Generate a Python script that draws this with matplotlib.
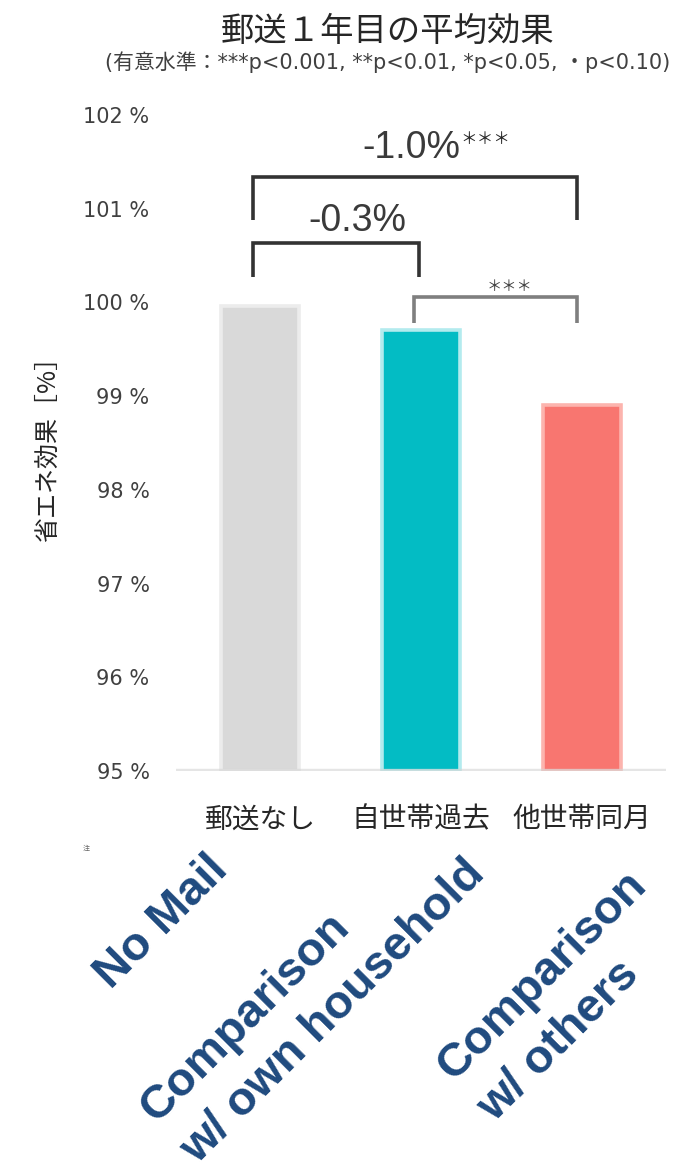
import matplotlib
matplotlib.use("Agg")
import matplotlib.pyplot as plt
import numpy as np

# --- data -------------------------------------------------------------
categories_jp = ["郵送なし", "自世帯過去", "他世帯同月"]
categories_en = [["No Mail"], ["Comparison", "w/ own household"], ["Comparison", "w/ others"]]
effect_pct = [99.96, 99.71, 98.91]
bar_colors = ["#d9d9d9", "#03bcc4", "#f87670"]
edge_colors = ["#ececec", "#b3ebee", "#fcb4ae"]
yticks = [95, 96, 97, 98, 99, 100, 101, 102]

# significance brackets: (left bar, right bar, bracket top, leg bottom, label, stars, colour)
brackets = [
    (0, 2, 101.34, 100.88, "-1.0%", "＊＊＊", "#333333"),
    (0, 1, 100.63, 100.27, "-0.3%", "", "#333333"),
    (1, 2, 100.06, 99.78, "", "＊＊＊", "#7f7f7f"),
]

CJK = ["Noto Sans CJK JP", "DejaVu Sans"]
WIDE = ["DejaVu Sans", "Noto Sans CJK JP"]
LAT = ["Liberation Sans", "DejaVu Sans"]

W, H = 681, 1174
fig = plt.figure(figsize=(W / 100, H / 100), dpi=100)
fig.patch.set_facecolor("white")

ax = fig.add_axes([176 / W, 1 - 771 / H, 490 / W, (771 - 115) / H])
x = list(range(len(categories_jp)))
ax.bar(x, [v - 95 for v in effect_pct], bottom=95, width=0.485,
       color=bar_colors, edgecolor=edge_colors, linewidth=2.6, zorder=2)
ax.axhline(95, color="#d4d4d4", lw=3.2, alpha=0.6, zorder=3)

ax.set_xlim(-0.525, 2.525)
ax.set_ylim(95, 102)
ax.set_yticks(yticks)
ax.set_yticklabels([f"{t} %" for t in yticks], fontfamily=WIDE,
                   fontsize=15, color="#404040")
ax.set_xticks(x)
ax.set_xticklabels(categories_jp, fontfamily=CJK, fontsize=20, color="#262626")
ax.tick_params(axis="y", length=0, pad=19)
ax.tick_params(axis="x", length=0, pad=24)
for s in ax.spines.values():
    s.set_visible(False)
ax.set_ylabel("省エネ効果［%］", fontfamily=CJK, fontsize=18, color="#262626",
              labelpad=16)

# brackets with difference labels
for i0, i1, top, leg, lab, stars, col in brackets:
    xl = i0 - 0.045
    xr = i1 - (0.03 if i1 == 2 else 0.015)
    ax.plot([xl, xl, xr, xr], [leg, top, top, leg], color=col, lw=2.6,
            solid_capstyle="butt", solid_joinstyle="miter", zorder=4)
    xm = (xl + xr) / 2
    if lab and stars:
        t = ax.text(xm - 0.025, top + 0.12, lab, ha="center", va="bottom",
                    fontfamily=LAT, fontsize=27, color="#3a3a3a")
        ax.annotate(stars, xy=(1, 1), xycoords=t, xytext=(0, -1),
                    textcoords="offset points", ha="left", va="top",
                    fontfamily=CJK, fontsize=12, color="#262626")
    elif lab:
        ax.text(xm + 0.135, top + 0.05, lab, ha="center", va="bottom",
                fontfamily=LAT, fontsize=27, color="#3a3a3a")
    else:
        ax.text(xm + 0.09, top + 0.02, stars, ha="center", va="bottom",
                fontfamily=CJK, fontsize=11, color="#404040")

# title and significance note
fig.text(388 / W, 1 - 31 / H, "郵送１年目の平均効果", ha="center", va="center",
         fontfamily=CJK, fontsize=24, color="#262626")
fig.text(388 / W, 1 - 62 / H,
         "(有意水準：***p<0.001, **p<0.01, *p<0.05, ・p<0.10)",
         ha="center", va="center", fontfamily=WIDE, fontsize=15, color="#404040")

# small note mark
fig.text(86 / W, 1 - 849 / H, "注", ha="center", va="center",
         fontfamily=CJK, fontsize=5, color="#666666")

# English category captions, rotated 45°, lines left-aligned
angle = 45
line_step = 57  # px between successive lines (perpendicular to baseline)
down = np.array([np.sin(np.radians(angle)), np.cos(np.radians(angle))])  # pixel (x right, y down)
starts = [(111, 990), (156, 1124), (453, 1082)]
for (sx, sy), lines in zip(starts, categories_en):
    for k, line in enumerate(lines):
        px, py = np.array([sx, sy]) + k * line_step * down
        fig.text(px / W, 1 - py / H, line, ha="left", va="baseline",
                 rotation=angle, rotation_mode="anchor",
                 fontfamily=LAT, fontweight="bold", fontsize=34,
                 color="#1f4a7e")

fig.savefig("out.png", dpi=100, facecolor="white")
